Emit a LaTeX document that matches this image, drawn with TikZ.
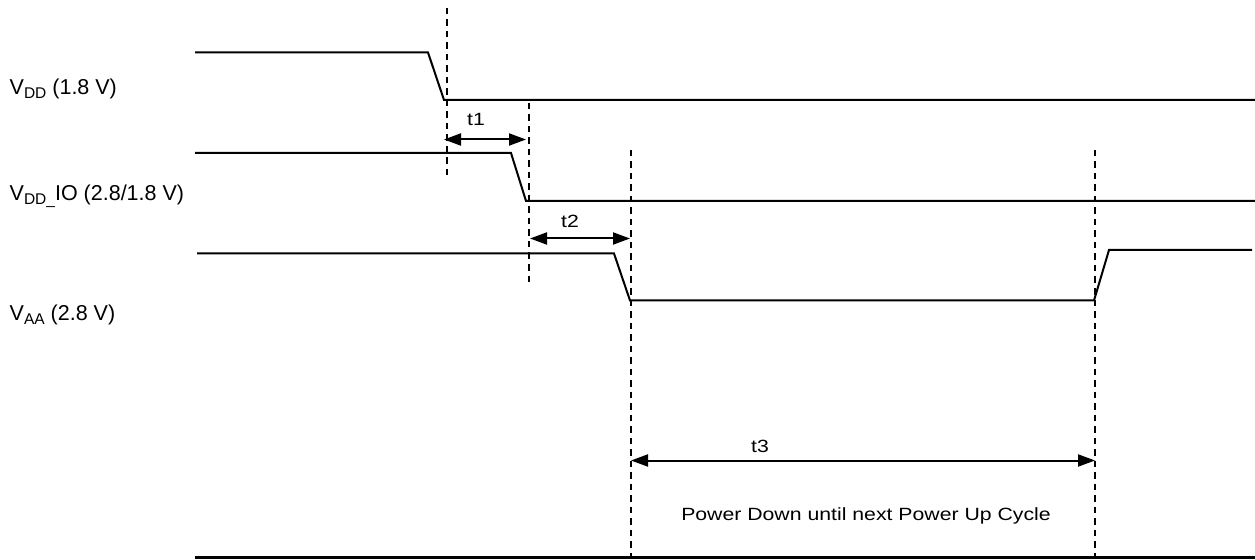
\documentclass[tikz,border=0pt]{standalone}
\usepackage{fontspec}
\setmainfont{Liberation Sans}
\newfontfamily\widefont[FakeStretch=1.2]{Liberation Sans}
\usetikzlibrary{arrows.meta}
\newcommand{\sigsub}[1]{\raisebox{-0.17em}{\fontsize{15.5bp}{15.5bp}\selectfont #1}}
\begin{document}
\begin{tikzpicture}[x=1bp,y=-1bp,
  sig/.style={line width=2bp, line join=miter},
  guide/.style={line width=1.6bp, dash pattern=on 6.5bp off 5bp},
  dim/.style={line width=2bp, {Triangle[length=17bp,width=12bp]}-{Triangle[length=17bp,width=12bp]}},
  lbl/.style={font=\fontsize{21.5bp}{24bp}\selectfont, anchor=base west, inner sep=0},
  tl/.style={font=\widefont\fontsize{17.7bp}{20bp}\selectfont, anchor=base, inner sep=0}]
\useasboundingbox (0,0) rectangle (1255,560);

% signal labels
\node[lbl] (lvdd) at (9.5,94.5) {V\sigsub{DD} (1.8 V)};
\node[lbl] (lvddio) at (9.5,201) {V\sigsub{DD\_}IO (2.8/1.8 V)};
\node[lbl] (lvaa) at (9.5,321) {V\sigsub{AA} (2.8 V)};

% VDD
\coordinate (a0) at (195,52.5);
\coordinate (a1) at (428,52.5);
\coordinate (a2) at (444,100);
\coordinate (a3) at (1255,100);
\draw[sig] (a0) -- (a1) -- (a2) -- (a3);

% VDD_IO
\coordinate (b0) at (195,153);
\coordinate (b1) at (511,153);
\coordinate (b2) at (526,201);
\coordinate (b3) at (1255,201);
\draw[sig] (b0) -- (b1) -- (b2) -- (b3);

% VAA
\coordinate (c0) at (197,253.5);
\coordinate (c1) at (614,253.5);
\coordinate (c2) at (630,300.5);
\coordinate (c3) at (1094,300.5);
\coordinate (c4) at (1109,250);
\coordinate (c5) at (1252,250);
\draw[sig] (c0) -- (c1) -- (c2) -- (c3) -- (c4) -- (c5);

% dashed guides
\coordinate (d1t) at (447,8);   \coordinate (d1b) at (447,178);
\coordinate (d2t) at (529,103); \coordinate (d2b) at (529,286);
\coordinate (d3t) at (631,150); \coordinate (d3b) at (631,560);
\coordinate (d4t) at (1095,150);\coordinate (d4b) at (1095,560);
\draw[guide] (d1t) -- (d1b);
\draw[guide] (d2t) -- (d2b);
\draw[guide] (d3t) -- (d3b);
\draw[guide] (d4t) -- (d4b);

% dimension arrows
\coordinate (t1l) at (444,139.5); \coordinate (t1r) at (526,139.5);
\coordinate (t2l) at (530,238.5); \coordinate (t2r) at (630,238.5);
\coordinate (t3l) at (631,460.5); \coordinate (t3r) at (1095,460.5);
\draw[dim] (t1l) -- (t1r);
\draw[dim] (t2l) -- (t2r);
\draw[dim] (t3l) -- (t3r);
\node[tl] (lt1) at (476,126) {t1};
\node[tl] (lt2) at (570,227.5) {t2};
\node[tl] (lt3) at (760,452.5) {t3};

\node[tl] (pd) at (866,520) {Power Down until next Power Up Cycle};

% bottom line
\coordinate (g0) at (195,557.5);
\coordinate (g1) at (1255,557.5);
\draw[line width=3bp] (g0) -- (g1);
\end{tikzpicture}
\end{document}
